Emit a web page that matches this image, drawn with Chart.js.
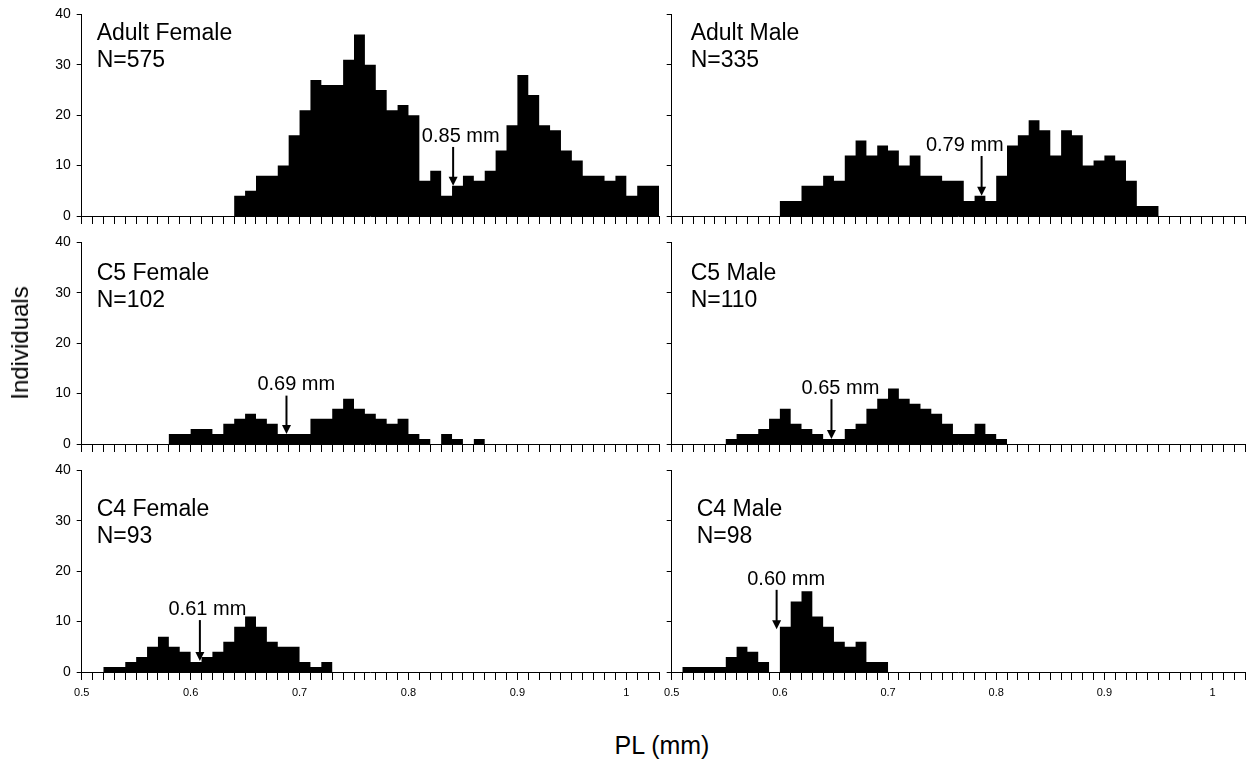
<!DOCTYPE html>
<html>
<head>
<meta charset="utf-8">
<title>PL size distributions</title>
<script src="https://cdn.jsdelivr.net/npm/chart.js@4.4.1/dist/chart.umd.min.js"></script>
<style>
  html, body { margin: 0; padding: 0; background: #fff; }
  #wrap { position: relative; width: 1251px; height: 761px; overflow: hidden; }
  #wrap canvas { position: absolute; }
  .axis-title {
    position: absolute;
    font-family: 'Liberation Sans', Arial, sans-serif;
    color: #000;
    white-space: nowrap;
  }
  #yTitle { left: 20px; top: 343px; font-size: 24px; transform: translate(-50%, -50%) rotate(-90deg); }
  #xTitle { left: 662px; top: 745px; font-size: 25px; transform: translate(-50%, -50%); }
</style>
</head>
<body>
<div id="wrap">
  <canvas id="adultFemale"></canvas>
  <canvas id="adultMale"></canvas>
  <canvas id="c5Female"></canvas>
  <canvas id="c5Male"></canvas>
  <canvas id="c4Female"></canvas>
  <canvas id="c4Male"></canvas>
  <div class="axis-title" id="yTitle">Individuals</div>
  <div class="axis-title" id="xTitle">PL (mm)</div>
</div>
<script>
// ---------------------------------------------------------------
// Data: prosome length classes (lower edge, mm), 0.01 mm wide
// ---------------------------------------------------------------
const plBins = [
  0.50, 0.51, 0.52, 0.53, 0.54, 0.55, 0.56, 0.57, 0.58, 0.59,
  0.60, 0.61, 0.62, 0.63, 0.64, 0.65, 0.66, 0.67, 0.68, 0.69,
  0.70, 0.71, 0.72, 0.73, 0.74, 0.75, 0.76, 0.77, 0.78, 0.79,
  0.80, 0.81, 0.82, 0.83, 0.84, 0.85, 0.86, 0.87, 0.88, 0.89,
  0.90, 0.91, 0.92, 0.93, 0.94, 0.95, 0.96, 0.97, 0.98, 0.99,
  1.00, 1.01, 1.02
];
const xMin = 0.50;
const xMax = 1.03; // upper edge of the last class
const xTickValues = [0.5, 0.6, 0.7, 0.8, 0.9, 1.0];
const xTickLabels = ['0.5', '0.6', '0.7', '0.8', '0.9', '1'];
const yTicks = [0, 10, 20, 30, 40];

// counts per class, same order as plBins
const adultFemale = [
  0, 0, 0, 0, 0, 0, 0, 0, 0, 0,
  0, 0, 0, 0, 4, 5, 8, 8, 10, 16,
  21, 27, 26, 26, 31, 36, 30, 25, 21, 22,
  20, 7, 9, 4, 6, 8, 7, 9, 13, 18,
  28, 24, 18, 17, 13, 11, 8, 8, 7, 8,
  4, 6, 6
];
const adultMale = [
  0, 0, 0, 0, 0, 0, 0, 0, 0, 0,
  3, 3, 6, 6, 8, 7, 12, 15, 12, 14,
  13, 10, 12, 8, 8, 7, 7, 3, 4, 3,
  8, 14, 16, 19, 17, 12, 17, 16, 10, 11,
  12, 11, 7, 2, 2, 0, 0, 0, 0, 0,
  0, 0, 0
];
const c5Female = [
  0, 0, 0, 0, 0, 0, 0, 0, 2, 2,
  3, 3, 2, 4, 5, 6, 5, 4, 2, 2,
  2, 5, 5, 7, 9, 7, 6, 5, 4, 5,
  2, 1, 0, 2, 1, 0, 1, 0, 0, 0,
  0, 0, 0, 0, 0, 0, 0, 0, 0, 0,
  0, 0, 0
];
const c5Male = [
  0, 0, 0, 0, 0, 1, 2, 2, 3, 5,
  7, 4, 3, 2, 1, 1, 3, 4, 7, 9,
  11, 9, 8, 7, 6, 4, 2, 2, 4, 2,
  1, 0, 0, 0, 0, 0, 0, 0, 0, 0,
  0, 0, 0, 0, 0, 0, 0, 0, 0, 0,
  0, 0, 0
];
const c4Female = [
  0, 0, 1, 1, 2, 3, 5, 7, 5, 4,
  2, 3, 4, 6, 9, 11, 9, 6, 5, 5,
  2, 1, 2, 0, 0, 0, 0, 0, 0, 0,
  0, 0, 0, 0, 0, 0, 0, 0, 0, 0,
  0, 0, 0, 0, 0, 0, 0, 0, 0, 0,
  0, 0, 0
];
const c4Male = [
  0, 1, 1, 1, 1, 3, 5, 4, 2, 0,
  9, 14, 16, 11, 9, 6, 5, 6, 2, 2,
  0, 0, 0, 0, 0, 0, 0, 0, 0, 0,
  0, 0, 0, 0, 0, 0, 0, 0, 0, 0,
  0, 0, 0, 0, 0, 0, 0, 0, 0, 0,
  0, 0, 0
];

const panelNames = ['Adult Female', 'Adult Male', 'C5 Female', 'C5 Male', 'C4 Female', 'C4 Male'];
const panelN = [575, 335, 102, 110, 93, 98];
const splitLabels = ['0.85 mm', '0.79 mm', '0.69 mm', '0.65 mm', '0.61 mm', '0.60 mm'];

// split arrows, in axis units (mm, individuals)
const arrowX = [0.841, 0.7865, 0.688, 0.6477, 0.6085, 0.597];
const arrowFrom = [13.7, 11.9, 9.6, 8.9, 10.3, 16.3];
const arrowTo = [6, 4, 2, 1, 2.2, 8.5];
const splitLabelX = [0.848, 0.771, 0.697, 0.656, 0.6154, 0.6058];
const splitLabelY = [15.8, 14.0, 11.9, 11.1, 12.4, 18.4];

// ---------------------------------------------------------------
// Layout
// ---------------------------------------------------------------
const FONT = "'Liberation Sans', Arial, sans-serif";
Chart.defaults.font.family = FONT;
Chart.defaults.color = '#000';

const PLOT_H = 205;
const PAD_TOP = 11;
const COLS = [
  { left: 30, width: 635, yAxisW: 51.7, padRight: 5.6, showY: true },
  { left: 645, width: 606, yAxisW: 26.7, padRight: 1.6, showY: false },
];
const ROWS = [
  { top: 0, xAxisH: 20, showX: false, titleDy: [19, 46] },
  { top: 228, xAxisH: 20, showX: false, titleDy: [31, 58] },
  { top: 456, xAxisH: 40, showX: true, titleDy: [39, 66] },
];
const titleDx = [15, 19, 15, 19, 15, 25];

const panels = [
  { id: 'adultFemale', counts: adultFemale },
  { id: 'adultMale', counts: adultMale },
  { id: 'c5Female', counts: c5Female },
  { id: 'c5Male', counts: c5Male },
  { id: 'c4Female', counts: c4Female },
  { id: 'c4Male', counts: c4Male },
];

// titles, N and the split arrow drawn on top of the histogram
const panelDecor = {
  id: 'panelDecor',
  afterDatasetsDraw(chart, args, opts) {
    const { ctx, chartArea, scales } = chart;
    ctx.save();
    ctx.fillStyle = '#000';
    ctx.strokeStyle = '#000';

    ctx.font = '23px ' + FONT;
    ctx.textAlign = 'left';
    ctx.textBaseline = 'middle';
    ctx.fillText(opts.name, chartArea.left + opts.dx, chartArea.top + opts.dy[0]);
    ctx.fillText('N=' + opts.n, chartArea.left + opts.dx, chartArea.top + opts.dy[1]);

    const x = scales.x.getPixelForValue(opts.arrowX);
    const y1 = scales.y.getPixelForValue(opts.arrowFrom);
    const y2 = scales.y.getPixelForValue(opts.arrowTo);
    ctx.lineWidth = 2;
    ctx.beginPath();
    ctx.moveTo(x, y1);
    ctx.lineTo(x, y2 - 8);
    ctx.stroke();
    ctx.beginPath();
    ctx.moveTo(x - 4.5, y2 - 9);
    ctx.lineTo(x + 4.5, y2 - 9);
    ctx.lineTo(x, y2);
    ctx.closePath();
    ctx.fill();

    ctx.font = '20px ' + FONT;
    ctx.textAlign = 'center';
    ctx.fillText(opts.label, scales.x.getPixelForValue(opts.labelX), scales.y.getPixelForValue(opts.labelY));
    ctx.restore();
  },
};

panels.forEach((p, i) => {
  const col = COLS[i % 2];
  const row = ROWS[Math.floor(i / 2)];
  const canvas = document.getElementById(p.id);
  const h = PAD_TOP + PLOT_H + row.xAxisH;
  canvas.width = col.width;
  canvas.height = h;
  canvas.style.left = col.left + 'px';
  canvas.style.top = row.top + 'px';
  canvas.style.width = col.width + 'px';
  canvas.style.height = h + 'px';

  // histogram as a filled step outline: each class holds its count up to the next edge
  const steps = plBins.map((b, k) => ({ x: b, y: p.counts[k] }));
  steps.push({ x: xMax, y: 0 });

  new Chart(canvas, {
    type: 'line',
    data: {
      datasets: [{
        data: steps,
        stepped: true,
        fill: 'origin',
        backgroundColor: '#000',
        borderColor: '#000',
        borderWidth: 0,
        pointRadius: 0,
      }],
    },
    plugins: [panelDecor],
    options: {
      responsive: false,
      maintainAspectRatio: false,
      animation: false,
      events: [],
      layout: { padding: { top: PAD_TOP, right: col.padRight, bottom: 0, left: 0 } },
      plugins: {
        legend: { display: false },
        tooltip: { enabled: false },
        panelDecor: {
          name: panelNames[i],
          n: panelN[i],
          label: splitLabels[i],
          arrowX: arrowX[i],
          arrowFrom: arrowFrom[i],
          arrowTo: arrowTo[i],
          labelX: splitLabelX[i],
          labelY: splitLabelY[i],
          dx: titleDx[i],
          dy: row.titleDy,
        },
      },
      scales: {
        x: {
          type: 'linear',
          min: xMin,
          max: xMax,
          offset: false,
          border: { display: true, color: '#000', width: 1 },
          grid: { drawOnChartArea: false, drawTicks: true, tickLength: 8, color: '#000', lineWidth: 1 },
          ticks: {
            autoSkip: false,
            maxRotation: 0,
            padding: 6,
            font: { size: 11 },
            color: '#000',
            callback: (value) => {
              if (!row.showX) return '';
              const k = xTickValues.findIndex(v => Math.abs(v - value) < 1e-6);
              return k >= 0 ? xTickLabels[k] : '';
            },
          },
          afterBuildTicks: (axis) => {
            axis.ticks = plBins.concat([xMax]).map(v => ({ value: v }));
          },
          afterFit: (axis) => { axis.height = row.xAxisH; },
        },
        y: {
          min: 0,
          max: 40,
          border: { display: true, color: '#000', width: 1 },
          grid: { drawOnChartArea: false, drawTicks: true, tickLength: 5, color: '#000', lineWidth: 1 },
          ticks: {
            padding: 6,
            font: { size: 14 },
            color: '#000',
            callback: (value) => (col.showY ? String(value) : ''),
          },
          afterBuildTicks: (axis) => {
            axis.ticks = yTicks.map(v => ({ value: v }));
          },
          afterFit: (axis) => { axis.width = col.yAxisW; },
        },
      },
    },
  });
});
</script>
</body>
</html>
